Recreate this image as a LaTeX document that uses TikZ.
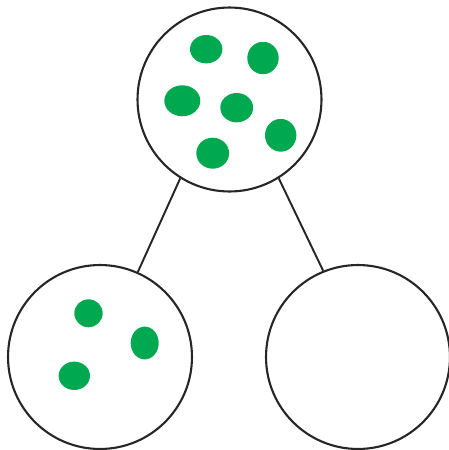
\documentclass[tikz,border=0pt]{standalone}
\usepackage{tikz}
\usetikzlibrary{positioning}
\definecolor{dotgreen}{RGB}{0,168,80}

\begin{document}
\begin{tikzpicture}[
    x=0.02cm, y=-0.02cm,
    ball/.style={circle, draw=black!85, line width=1.2pt, minimum size=3.68cm, inner sep=0pt},
    dot/.style={fill=dotgreen},
    link/.style={draw=black!85, line width=1.1pt}
]
\useasboundingbox (0,0) rectangle (449,450);
\node[ball] (top) at (229.5, 99.5) {};
\node[ball] (left) at (100, 357) {};
\node[ball] (right) at (358, 357) {};
% dots in the top ball
\fill[dot] (206.2, 49.2) ellipse (16.2 and 14.2);
\fill[dot] (263, 58) ellipse (15.7 and 16.2);
\fill[dot] (182.3, 100.8) ellipse (18 and 15.5);
\fill[dot] (236.7, 107.7) ellipse (16.4 and 14.7);
\fill[dot] (280.7, 135.3) ellipse (15.7 and 16.4);
\fill[dot] (212.7, 153.2) ellipse (16.4 and 15.5);
% dots in the left ball
\fill[dot] (88.5, 313.3) ellipse (14.2 and 14);
\fill[dot] (144.7, 343) ellipse (14 and 16.4);
\fill[dot] (74.3, 375.8) ellipse (15.7 and 14.2);
\draw[link] (top.238) -- (left.66);
\draw[link] (top.302) -- (right.112);
\end{tikzpicture}
\end{document}
